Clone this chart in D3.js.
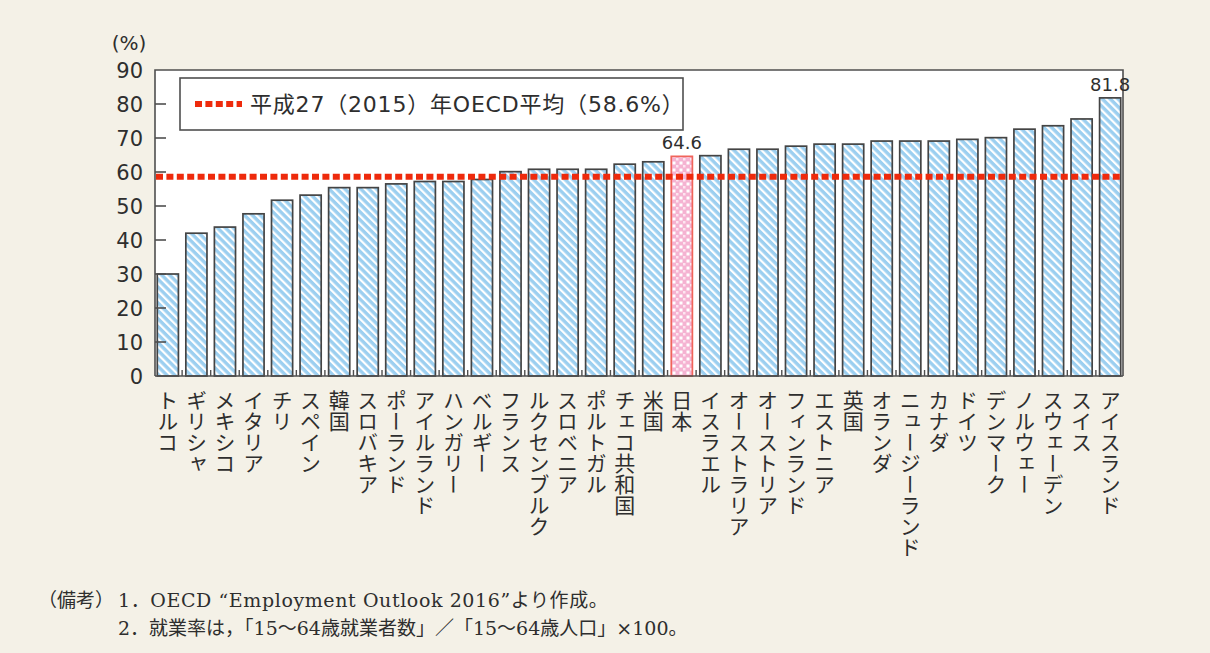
<!DOCTYPE html>
<html lang="ja">
<head>
<meta charset="utf-8">
<script src="https://cdn.jsdelivr.net/npm/d3@7"></script>
<style>
  html, body { margin: 0; padding: 0; background: #f4f1e7; }
  svg { display: block; }
  text { font-family: "DejaVu Sans", "Noto Sans CJK JP", sans-serif; fill: #2e2e2e; }
  .cat text { font-family: "Noto Sans CJK JP", sans-serif; }
  .note text { font-family: "DejaVu Serif", "Noto Sans CJK JP", serif; }
</style>
</head>
<body>
<svg id="chart" width="1210" height="653"></svg>
<script>
// ── 女性の就業率（OECD諸国, 2015年） ──

const countries = [
  'トルコ', 'ギリシャ', 'メキシコ', 'イタリア', 'チリ', 'スペイン', '韓国', 'スロバキア',
  'ポーランド', 'アイルランド', 'ハンガリー', 'ベルギー', 'フランス', 'ルクセンブルク',
  'スロベニア', 'ポルトガル', 'チェコ共和国', '米国', '日本', 'イスラエル', 'オーストラリア',
  'オーストリア', 'フィンランド', 'エストニア', '英国', 'オランダ', 'ニュージーランド',
  'カナダ', 'ドイツ', 'デンマーク', 'ノルウェー', 'スウェーデン', 'スイス', 'アイスランド',
];

const rates = [
  30.0, 42.0, 43.8, 47.7, 51.7, 53.2, 55.4, 55.4,
  56.5, 57.2, 57.2, 57.8, 60.1, 60.8,
  60.8, 60.8, 62.3, 63.0, 64.6, 64.8, 66.7,
  66.7, 67.6, 68.2, 68.2, 69.1, 69.1,
  69.1, 69.6, 70.1, 72.6, 73.6, 75.6, 81.8,
];

const yTicks = [0, 10, 20, 30, 40, 50, 60, 70, 80, 90];
const oecdAverage = 58.6;
const highlight = '日本';
const labelled = ['日本', 'アイスランド'];
const legendLabel = '平成27（2015）年OECD平均（58.6%）';
const notes = [
  ['（備考）', '1．OECD “Employment Outlook 2016”より作成。'],
  ['', '2．就業率は，「15～64歳就業者数」／「15～64歳人口」×100。'],
];

const data = countries.map((c, i) => ({ country: c, value: rates[i] }));

const svg = d3.select('#chart');
const plotL = 155, plotR = 1123, plotT = 70, plotB = 376;
const axisColor = '#4f4f4f';

const x = d3.scaleBand()
  .domain(countries)
  .range([plotL, plotR])
  .paddingInner(0.26)
  .paddingOuter(0.08);

const y = d3.scaleLinear().domain([0, 90]).range([plotB, plotT]);

// patterns
const defs = svg.append('defs');
const stripe = defs.append('pattern')
  .attr('id', 'stripe')
  .attr('patternUnits', 'userSpaceOnUse')
  .attr('width', 5.6).attr('height', 5.6)
  .attr('patternTransform', 'rotate(-45)');
stripe.append('rect').attr('width', 5.6).attr('height', 5.6).attr('fill', '#9ccff0');
stripe.append('rect').attr('width', 2.2).attr('height', 5.6).attr('fill', '#ffffff');

const check = defs.append('pattern')
  .attr('id', 'check')
  .attr('patternUnits', 'userSpaceOnUse')
  .attr('width', 7).attr('height', 7);
check.append('rect').attr('width', 7).attr('height', 7).attr('fill', '#f5b3d2');
check.append('rect').attr('x', 0.5).attr('y', 0.5).attr('width', 3).attr('height', 3).attr('fill', '#fff');
check.append('rect').attr('x', 4).attr('y', 4).attr('width', 2.5).attr('height', 2.5).attr('fill', '#fde6f0');

// plot area
svg.append('rect')
  .attr('x', plotL).attr('y', plotT)
  .attr('width', plotR - plotL).attr('height', plotB - plotT)
  .attr('fill', '#fff');

// bars
svg.append('g')
  .selectAll('rect')
  .data(data)
  .join('rect')
  .attr('x', d => x(d.country))
  .attr('y', d => y(d.value))
  .attr('width', x.bandwidth())
  .attr('height', d => y(0) - y(d.value))
  .attr('fill', d => d.country === highlight ? 'url(#check)' : 'url(#stripe)')
  .attr('stroke', d => d.country === highlight ? '#f0645a' : '#444')
  .attr('stroke-width', 1.7);

// frame
svg.append('path')
  .attr('d', `M${plotL},${plotB}V${plotT}H${plotR}V${plotB}`)
  .attr('fill', 'none')
  .attr('stroke', axisColor)
  .attr('stroke-width', 1.6);

// y axis ticks (inward) and labels
const gap = x.step() - x.bandwidth();
svg.append('g')
  .selectAll('line')
  .data(yTicks.filter(t => t > 0 && t < 90))
  .join('line')
  .attr('x1', plotL).attr('x2', plotL + 11)
  .attr('y1', d => y(d)).attr('y2', d => y(d))
  .attr('stroke', axisColor).attr('stroke-width', 1.6);

svg.append('g')
  .selectAll('text')
  .data(yTicks)
  .join('text')
  .attr('x', 143)
  .attr('y', d => y(d))
  .attr('dy', '0.36em')
  .attr('text-anchor', 'end')
  .attr('font-size', 21)
  .text(d => d);

svg.append('text')
  .attr('x', 129).attr('y', 50)
  .attr('text-anchor', 'middle')
  .attr('font-size', 20)
  .text('(%)');

// x axis line + category separator ticks
svg.append('line')
  .attr('x1', plotL).attr('x2', plotR)
  .attr('y1', plotB).attr('y2', plotB)
  .attr('stroke', axisColor).attr('stroke-width', 1.6);

svg.append('g')
  .selectAll('line')
  .data(countries.slice(1))
  .join('line')
  .attr('x1', d => x(d) - gap / 2).attr('x2', d => x(d) - gap / 2)
  .attr('y1', plotB).attr('y2', plotB - 6)
  .attr('stroke', axisColor).attr('stroke-width', 1.4);

// vertical category labels
svg.append('g')
  .attr('class', 'cat')
  .selectAll('text')
  .data(countries)
  .join('text')
  .attr('x', d => x(d) + x.bandwidth() / 2)
  .attr('y', 390)
  .attr('font-size', 21)
  .style('writing-mode', 'vertical-rl')
  .attr('text-anchor', 'start')
  .text(d => d);

// OECD average line
svg.append('line')
  .attr('x1', plotL + 1).attr('x2', plotR)
  .attr('y1', y(oecdAverage)).attr('y2', y(oecdAverage))
  .attr('stroke', '#ee2a0c')
  .attr('stroke-width', 6)
  .attr('stroke-dasharray', '7,3.4');

// value labels
svg.append('g')
  .selectAll('text')
  .data(data.filter(d => labelled.includes(d.country)))
  .join('text')
  .attr('x', d => x(d.country) + x.bandwidth() / 2)
  .attr('y', d => y(d.value) - 7)
  .attr('text-anchor', 'middle')
  .attr('font-size', 18)
  .text(d => d.value.toFixed(1));

// legend
const legend = svg.append('g');
legend.append('rect')
  .attr('x', 180).attr('y', 78)
  .attr('width', 503).attr('height', 52)
  .attr('fill', '#fff')
  .attr('stroke', axisColor).attr('stroke-width', 1.6);
legend.append('line')
  .attr('x1', 195).attr('x2', 242)
  .attr('y1', 104).attr('y2', 104)
  .attr('stroke', '#ee2a0c')
  .attr('stroke-width', 6)
  .attr('stroke-dasharray', '7,3.4');
legend.append('text')
  .attr('x', 250).attr('y', 104)
  .attr('dy', '0.36em')
  .attr('font-size', 22)
  .attr('letter-spacing', 0.8)
  .text(legendLabel);

// notes
const note = svg.append('g').attr('class', 'note');
notes.forEach((n, i) => {
  const yy = 607 + i * 28;
  if (n[0]) {
    note.append('text').attr('x', 38).attr('y', yy).attr('font-size', 19).text(n[0]);
  }
  note.append('text').attr('x', 118).attr('y', yy).attr('font-size', 19)
    .attr('letter-spacing', i === 0 ? 0.6 : 0)
    .text(n[1]);
});
</script>
</body>
</html>
